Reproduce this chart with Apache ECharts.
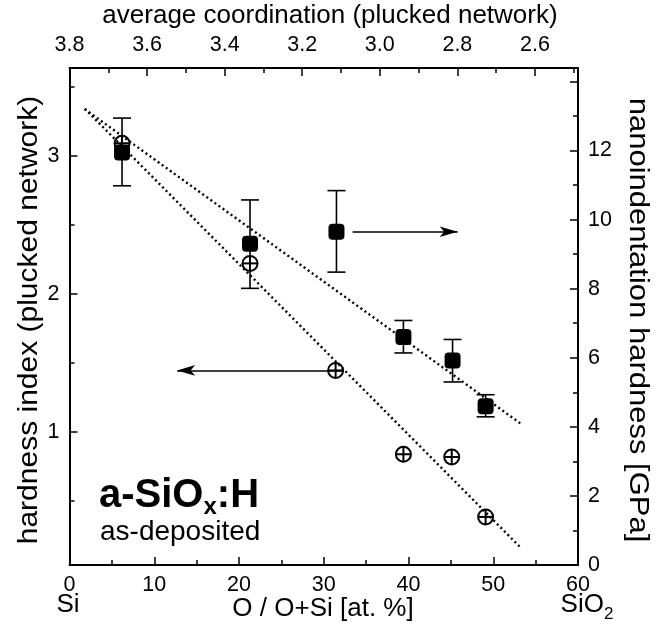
<!DOCTYPE html>
<html><head><meta charset="utf-8">
<script src="https://cdn.jsdelivr.net/npm/echarts@6/dist/echarts.min.js"></script>
<style>html,body{margin:0;background:#fff}#c{width:665px;height:635px}</style>
</head><body><div id="c"></div>
<script>
// O content in at.% (bottom axis) for the nanoindentation samples
const oxygen = [6.2, 21.3, 31.5, 39.4, 45.2, 49.1];
// nanoindentation hardness [GPa] (right axis) and its error limits
const hardness = [11.94, 9.30, 9.65, 6.60, 5.92, 4.60];
const hardnessLow = [10.98, 8.01, 8.48, 6.14, 5.30, 4.29];
const hardnessHigh = [12.94, 10.57, 10.84, 7.08, 6.53, 4.93];
// hardness index of the plucked network (left axis)
const indexX = [6.2, 21.3, 31.4, 39.4, 45.1, 49.1];
const hardnessIndex = [3.09, 2.22, 1.445, 0.838, 0.818, 0.384];
// dotted trend lines
const hardnessFitX = [1.8, 53.2];
const hardnessFit = [13.2, 4.1];
const indexFitX = [1.8, 53.1];
const indexFit = [3.34, 0.17];
// arrows pointing to the axis each set belongs to
const rightArrowX = [33.4, 45.8]; const rightArrowY = 9.65;
const leftArrowX = [32.3, 12.7]; const leftArrowY = 1.445;
// tick values
const bottomTicks = [0, 10, 20, 30, 40, 50, 60];
const bottomMinor = [5, 15, 25, 35, 45, 55];
const topLabels = [3.8, 3.6, 3.4, 3.2, 3.0, 2.8, 2.6];
const topMinor = [3.7, 3.5, 3.3, 3.1, 2.9, 2.7, 2.5];
const leftLabels = [1, 2, 3];
const leftMinor = [0.5, 1.5, 2.5, 3.5];
const rightLabels = [0, 2, 4, 6, 8, 10, 12];
const rightTicks = [0, 2, 4, 6, 8, 10, 12, 14];
const rightMinor = [1, 3, 5, 7, 9, 11, 13];

const FONT = 'Liberation Sans';
const BLACK = '#000';
const TITLE = 26;
const axisLine = { show: true, lineStyle: { color: BLACK, width: 2 } };
const lbl = (vals, extra) => Object.assign({ show: true, customValues: vals, color: BLACK, fontSize: 21.5, fontFamily: FONT }, extra || {});
const tick = (vals, len) => ({ show: true, inside: true, length: len, customValues: vals, lineStyle: { color: BLACK, width: 1.5 } });
const minorAxis = (base) => Object.assign({ type: 'value', axisLine: { show: false }, axisLabel: { show: false }, splitLine: { show: false } }, base);
const text = (x, y, s, size, extra) => Object.assign({ type: 'text', x, y, style: { text: s, fontSize: size, fontFamily: FONT, fill: BLACK, align: 'center', verticalAlign: 'middle' } }, extra || {});

const chart = echarts.init(document.getElementById('c'), null, { renderer: 'canvas' });
chart.setOption({
  animation: false,
  backgroundColor: '#fff',
  grid: { left: 69.5, right: 87, top: 68, bottom: 70, containLabel: false },
  xAxis: [
    { type: 'value', position: 'bottom', min: 0, max: 60, axisLine, splitLine: { show: false },
      axisTick: tick(bottomTicks, 8), axisLabel: lbl(bottomTicks, { margin: 9 }) },
    minorAxis({ position: 'bottom', min: 0, max: 60, axisTick: tick(bottomMinor, 5) }),
    { type: 'value', position: 'top', min: 2.489, max: 3.8, inverse: true, axisLine, splitLine: { show: false },
      axisTick: tick(topLabels, 8), axisLabel: lbl(topLabels, { margin: 12, formatter: v => v.toFixed(1) }) },
    minorAxis({ position: 'top', min: 2.489, max: 3.8, inverse: true, axisTick: tick(topMinor, 5) })
  ],
  yAxis: [
    { type: 'value', position: 'left', min: 0.036, max: 3.635, axisLine, splitLine: { show: false },
      axisTick: tick(leftLabels, 8), axisLabel: lbl(leftLabels, { margin: 10 }) },
    minorAxis({ position: 'left', min: 0.036, max: 3.635, axisTick: tick(leftMinor, 5) }),
    { type: 'value', position: 'right', min: 0, max: 14.39, axisLine, splitLine: { show: false },
      axisTick: tick(rightTicks, 8), axisLabel: lbl(rightLabels, { margin: 10 }) },
    minorAxis({ position: 'right', min: 0, max: 14.39, axisTick: tick(rightMinor, 5) })
  ],
  series: [
    { type: 'line', xAxisIndex: 0, yAxisIndex: 2, showSymbol: false, silent: true, z: 2,
      data: hardnessFitX.map((x, i) => [x, hardnessFit[i]]),
      lineStyle: { color: BLACK, width: 2.4, type: [2, 3] } },
    { type: 'line', xAxisIndex: 0, yAxisIndex: 0, showSymbol: false, silent: true, z: 2,
      data: indexFitX.map((x, i) => [x, indexFit[i]]),
      lineStyle: { color: BLACK, width: 2.4, type: [2, 3] } },
    { type: 'custom', xAxisIndex: 0, yAxisIndex: 2, z: 3, silent: true,
      data: oxygen.map((x, i) => [x, hardnessLow[i], hardnessHigh[i]]),
      renderItem: (params, api) => {
        const lo = api.coord([api.value(0), api.value(1)]);
        const hi = api.coord([api.value(0), api.value(2)]);
        const w = 9, st = { stroke: BLACK, lineWidth: 1.6 };
        return { type: 'group', children: [
          { type: 'line', shape: { x1: lo[0], y1: lo[1], x2: hi[0], y2: hi[1] }, style: st },
          { type: 'line', shape: { x1: lo[0] - w, y1: lo[1], x2: lo[0] + w, y2: lo[1] }, style: st },
          { type: 'line', shape: { x1: hi[0] - w, y1: hi[1], x2: hi[0] + w, y2: hi[1] }, style: st }
        ] };
      } },
    { type: 'custom', xAxisIndex: 0, yAxisIndex: 0, z: 4, silent: true,
      data: indexX.map((x, i) => [x, hardnessIndex[i]]),
      renderItem: (params, api) => {
        const p = api.coord([api.value(0), api.value(1)]);
        const r = 7.5, st = { stroke: BLACK, lineWidth: 2, fill: null };
        return { type: 'group', children: [
          { type: 'circle', shape: { cx: p[0], cy: p[1], r }, style: { stroke: BLACK, lineWidth: 2, fill: 'rgba(255,255,255,0)' } },
          { type: 'line', shape: { x1: p[0] - r, y1: p[1], x2: p[0] + r, y2: p[1] }, style: st },
          { type: 'line', shape: { x1: p[0], y1: p[1] - r, x2: p[0], y2: p[1] + r }, style: st }
        ] };
      } },
    { type: 'scatter', xAxisIndex: 0, yAxisIndex: 2, z: 5, silent: true,
      symbol: 'roundRect', symbolSize: 16,
      itemStyle: { color: BLACK, opacity: 1 },
      data: oxygen.map((x, i) => [x, hardness[i]]) },
    { type: 'line', xAxisIndex: 0, yAxisIndex: 2, data: [], silent: true, z: 6,
      markLine: { silent: true, symbol: ['none', 'arrow'], symbolSize: [8, 18], label: { show: false },
        lineStyle: { color: BLACK, width: 1.6, type: 'solid' }, emphasis: { disabled: true },
        data: [[{ coord: [rightArrowX[0], rightArrowY] }, { coord: [rightArrowX[1], rightArrowY] }]] } },
    { type: 'line', xAxisIndex: 0, yAxisIndex: 0, data: [], silent: true, z: 6,
      markLine: { silent: true, symbol: ['none', 'arrow'], symbolSize: [8, 18], label: { show: false },
        lineStyle: { color: BLACK, width: 1.6, type: 'solid' }, emphasis: { disabled: true },
        data: [[{ coord: [leftArrowX[0], leftArrowY] }, { coord: [leftArrowX[1], leftArrowY] }]] } }
  ],
  graphic: [
    text(330, 16, 'average coordination (plucked network)', TITLE),
    text(323, 609, 'O / O+Si [at. %]', TITLE),
    text(68, 605, 'Si', TITLE),
    { type: 'text', x: 587, y: 605, style: { text: '{a|SiO}{b|2}', fill: BLACK, align: 'center', verticalAlign: 'middle',
      rich: { a: { fontSize: TITLE, fontFamily: FONT, fill: BLACK }, b: { fontSize: 17, fontFamily: FONT, fill: BLACK, padding: [18, 0, 0, 0] } } } },
    text(30, 320, 'hardness index (plucked network)', 30, { rotation: Math.PI / 2, scaleY: 0.9 }),
    text(638, 320, 'nanoindentation hardness [GPa]', 31, { rotation: -Math.PI / 2, scaleY: 0.9 }),
    { type: 'text', x: 99, y: 496, style: { text: '{a|a-SiO}{b|x}{a|:H}', fill: BLACK, align: 'left', verticalAlign: 'middle',
      rich: { a: { fontSize: 40, fontWeight: 'bold', fontFamily: FONT, fill: BLACK }, b: { fontSize: 24, fontWeight: 'bold', fontFamily: FONT, fill: BLACK, padding: [22, 0, 0, 0] } } } },
    { type: 'text', x: 100, y: 532, style: { text: 'as-deposited', fontSize: 28, fontFamily: FONT, fill: BLACK, align: 'left', verticalAlign: 'middle' } }
  ]
});
</script></body></html>
